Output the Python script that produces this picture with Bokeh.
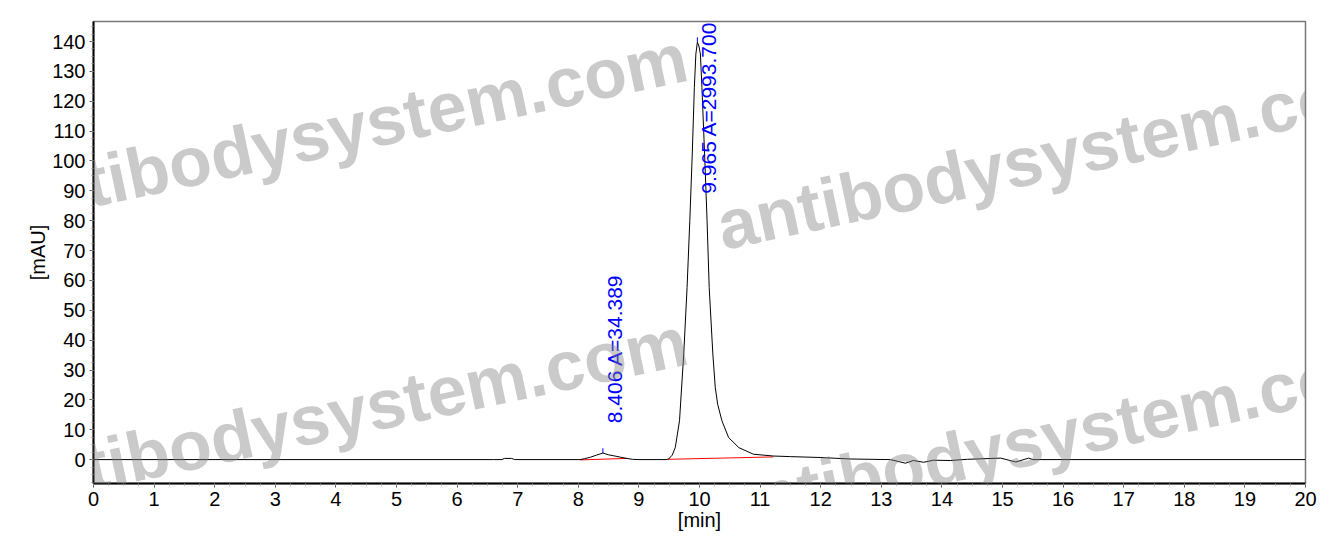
from bokeh.plotting import figure
from bokeh.models import Range1d, SingleIntervalTicker, Label
from bokeh.embed import file_html
from bokeh.resources import INLINE

# ---- data ----
time_min = [0.0, 6.60, 6.74, 6.78, 6.90, 6.95, 7.50, 8.03, 8.10, 8.20, 8.30, 8.406, 8.50,
            8.58, 8.70, 8.80, 8.89, 9.00, 9.30, 9.45, 9.49, 9.55, 9.60, 9.67, 9.74, 9.795,
            9.84, 9.88, 9.915, 9.94, 9.965, 9.99, 10.015, 10.04, 10.085, 10.125, 10.16,
            10.22, 10.26, 10.30, 10.37, 10.48, 10.65, 10.89, 11.22, 11.50, 12.00, 12.50,
            13.15, 13.40, 13.53, 13.70, 13.86, 14.14, 14.42, 14.97, 15.22, 15.43, 15.50, 20.0]
signal_mau = [0.0, 0.0, 0.0, 0.4, 0.4, 0.0, 0.0, 0.0, 0.3, 0.8, 1.5, 2.2, 1.6,
              1.3, 0.8, 0.4, 0.1, 0.0, 0.0, 0.0, 0.2, 1.5, 4.0, 13.0, 35.4, 57.6,
              80.0, 102.0, 124.6, 135.8, 139.8, 138.5, 135.8, 124.6, 102.0, 80.0, 57.6,
              35.4, 24.2, 18.5, 13.0, 7.4, 4.0, 1.8, 1.2, 1.0, 0.7, 0.2,
              0.0, -1.2, -0.3, -0.9, -0.2, -0.3, 0.1, 0.5, -0.8, 0.5, 0.0, 0.0]

peak_rt = [8.406, 9.965]
peak_area = [34.389, 2993.700]
peak_height = [2.2, 139.8]

# integration baselines (start time, start value, end time, end value)
base_t0 = [8.03, 9.48]
base_y0 = [-0.1, 0.1]
base_t1 = [8.80, 11.22]
base_y1 = [0.4, 0.9]

x_ticks_interval = 1
y_ticks_interval = 10
x_lim = (0, 20)
y_lim = (-8, 146.7)

watermark = "antibodysystem.com"
FONT = "Liberation Sans"

p = figure(frame_width=1212, frame_height=462,
           x_range=Range1d(*x_lim), y_range=Range1d(*y_lim),
           output_backend="svg", toolbar_location=None,
           min_border_left=93, min_border_top=21, min_border_right=20, min_border_bottom=46)

p.background_fill_color = "white"
p.border_fill_color = "white"
p.xgrid.visible = False
p.ygrid.visible = False
p.outline_line_color = "#777777"
p.outline_line_width = 1.5

# integration baselines (red)
p.segment(x0=base_t0, y0=base_y0, x1=base_t1, y1=base_y1, line_color="red", line_width=1)

# chromatogram
p.line(time_min, signal_mau, line_color="black", line_width=1)

# peak apex markers
p.segment(x0=peak_rt, y0=peak_height, x1=peak_rt, y1=[h + 1.6 for h in peak_height],
          line_color="blue", line_width=1)

# peak labels
labels = [f"{rt:.3f} A={a:.3f}" for rt, a in zip(peak_rt, peak_area)]
for rt, h, txt in zip(peak_rt, peak_height, labels):
    if h + 10 + 55 > y_lim[1]:
        ly, align = y_lim[1], "right"
    else:
        ly, align = h + 10, "left"
    p.add_layout(Label(x=rt, y=ly, text=txt, angle=90, angle_units="deg",
                       text_font=FONT, text_font_size="21px", text_color="blue",
                       text_align=align, text_baseline="top"))

# watermark (semi-transparent, drawn over the page like the original)
wm_pos = [(-1.46, 86.5), (10.31, 78.0), (-1.46, -8.5), (10.31, -16.0)]
for (wx, wy) in wm_pos:
    p.add_layout(Label(x=wx, y=wy, text=watermark, angle=12, angle_units="deg",
                       text_font=FONT, text_font_size="70px", text_font_style="bold",
                       text_color="#808080", text_alpha=0.42,
                       text_baseline="alphabetic", text_align="left"))

# axes
p.xaxis.ticker = SingleIntervalTicker(interval=x_ticks_interval, num_minor_ticks=4)
p.yaxis.ticker = SingleIntervalTicker(interval=y_ticks_interval, num_minor_ticks=4)
p.xaxis.axis_label = "[min]"
p.yaxis.axis_label = "[mAU]"
for ax in (p.xaxis, p.yaxis):
    ax.axis_line_color = "black"
    ax.axis_line_width = 2
    ax.major_tick_line_color = "#555555"
    ax.minor_tick_line_color = "#888888"
    ax.major_tick_in = 0
    ax.minor_tick_in = 0
    ax.major_tick_out = 4
    ax.minor_tick_out = 2
    ax.major_label_text_font = FONT
    ax.major_label_text_font_size = "20px"
    ax.major_label_text_color = "black"
    ax.axis_label_text_font = FONT
    ax.axis_label_text_font_size = "20px"
    ax.axis_label_text_font_style = "normal"
    ax.axis_label_text_color = "black"
p.xaxis.major_label_standoff = 4
p.xaxis.axis_label_standoff = 0
p.yaxis.major_label_standoff = 4
p.yaxis.axis_label_standoff = 0

open("out.html", "w").write(file_html(p, INLINE))
